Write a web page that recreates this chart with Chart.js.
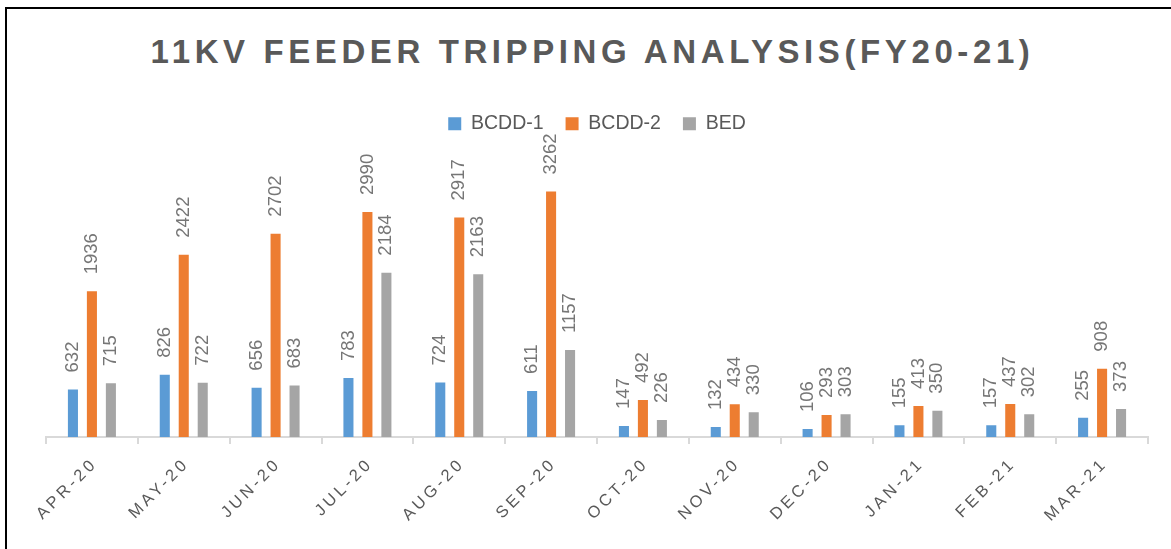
<!DOCTYPE html>
<html>
<head>
<meta charset="utf-8">
<script src="https://cdn.jsdelivr.net/npm/chart.js@4/dist/chart.umd.min.js"></script>
<style>
  body { margin: 0; background: #fff; }
  #wrap { position: relative; width: 1171px; height: 549px; overflow: hidden; }
  #frame { position: absolute; left: 5px; top: 7px; right: -10px; bottom: -10px;
           border-top: 2px solid #000; border-left: 2px solid #000; }
  #title { position: absolute; left: 2px; top: 33px; width: 1181px; text-align: center;
           font: bold 33px/38px "Liberation Sans", sans-serif; letter-spacing: 4.6px; color: #595959; }
  canvas { position: absolute; left: 0; top: 0; }
</style>
</head>
<body>
<div id="wrap">
  <div id="frame"></div>
  <div id="title">11KV FEEDER TRIPPING ANALYSIS(FY20-21)</div>
  <canvas id="chart" width="1171" height="549"></canvas>
</div>
<script>
// mois de l'exercice
const months = ['APR-20', 'MAY-20', 'JUN-20', 'JUL-20', 'AUG-20', 'SEP-20',
                'OCT-20', 'NOV-20', 'DEC-20', 'JAN-21', 'FEB-21', 'MAR-21'];
const bcdd1 = [632, 826, 656, 783, 724, 611, 147, 132, 106, 155, 157, 255];
const bcdd2 = [1936, 2422, 2702, 2990, 2917, 3262, 492, 434, 293, 413, 437, 908];
const bed = [715, 722, 683, 2184, 2163, 1157, 226, 330, 303, 350, 302, 373];

// valeurs au-dessus des barres, tournées de 90°
const barLabels = {
    id: 'barLabels',
    afterDatasetsDraw(chart) {
        const ctx = chart.ctx;
        ctx.save();
        ctx.font = '18.5px "Liberation Sans", sans-serif';
        ctx.fillStyle = '#767676';
        ctx.textAlign = 'left';
        ctx.textBaseline = 'middle';
        chart.data.datasets.forEach((ds, i) => {
            chart.getDatasetMeta(i).data.forEach((bar, j) => {
                ctx.save();
                ctx.translate(bar.x, bar.y - 17);
                ctx.rotate(-Math.PI / 2);
                ctx.fillText(ds.data[j], 0, 0);
                ctx.restore();
            });
        });
        ctx.restore();
    }
};

// étiquettes de l'axe X à 45° avec espacement des lettres
const monthLabels = {
    id: 'monthLabels',
    afterDraw(chart) {
        const ctx = chart.ctx;
        const x = chart.scales.x;
        ctx.save();
        ctx.font = '16.5px "Liberation Sans", sans-serif';
        ctx.letterSpacing = '3.5px';
        ctx.fillStyle = '#595959';
        ctx.textAlign = 'right';
        ctx.textBaseline = 'middle';
        months.forEach((m, i) => {
            ctx.save();
            ctx.translate(x.getPixelForValue(i) + 3, chart.chartArea.bottom + 24);
            ctx.rotate(-Math.PI / 4);
            ctx.fillText(m, 0, 0);
            ctx.restore();
        });
        ctx.restore();
    }
};

const ctx = document.getElementById('chart').getContext('2d');
const chart = new Chart(ctx, {
    type: 'bar',
    data: {
        labels: months,
        datasets: [
            { label: 'BCDD-1', data: bcdd1, backgroundColor: '#5b9bd5' },
            { label: 'BCDD-2', data: bcdd2, backgroundColor: '#ed7d31' },
            { label: 'BED', data: bed, backgroundColor: '#a5a5a5' }
        ]
    },
    options: {
        responsive: false,
        animation: false,
        categoryPercentage: 0.62,
        barPercentage: 0.53,
        layout: { padding: { left: 46, right: 23, top: 92, bottom: 112 } },
        plugins: {
            tooltip: { enabled: false },
            legend: {
                position: 'top',
                labels: {
                    boxWidth: 13,
                    boxHeight: 13,
                    padding: 22,
                    color: '#595959',
                    font: { family: '"Liberation Sans", sans-serif', size: 19.5 }
                }
            }
        },
        scales: {
            x: {
                offset: true,
                ticks: { display: false },
                grid: { offset: true, drawOnChartArea: false, drawTicks: true, tickLength: 7, color: '#d9d9d9', lineWidth: 2 },
                border: { display: true, color: '#d9d9d9', width: 2 },
                afterFit(scale) { scale.height = 0; }
            },
            y: {
                display: false,
                min: 0,
                max: 3900
            }
        }
    },
    plugins: [barLabels, monthLabels]
});
</script>
</body>
</html>
